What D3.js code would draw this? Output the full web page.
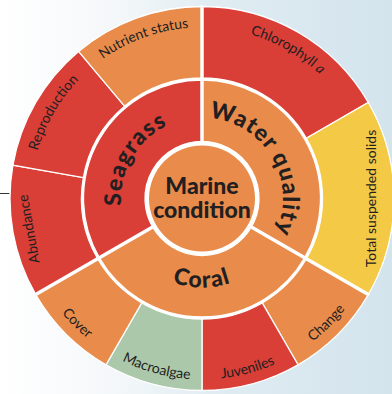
<!DOCTYPE html>
<html>
<head>
<meta charset="utf-8">
<script src="https://cdn.jsdelivr.net/npm/d3@7"></script>
<style>
  html, body { margin: 0; padding: 0; background: #fff; }
  svg { display: block; }
</style>
</head>
<body>
<div id="chart"></div>
<script>
// report card grades
var centreLabel = ["Marine", "condition"];
var centreGrade = "poor";

var groups = ["Water quality", "Coral", "Seagrass"];
var groupGrades = ["poor", "poor", "very poor"];

var indicators = ["Chlorophyll a", "Total suspended solids", "Change", "Juveniles", "Macroalgae", "Cover", "Abundance", "Reproduction", "Nutrient status"];
var indicatorGroup = [0, 0, 1, 1, 1, 1, 2, 2, 2];
var indicatorGrades = ["very poor", "moderate", "poor", "very poor", "good", "poor", "very poor", "very poor", "poor"];

var grades = ["very poor", "poor", "moderate", "good"];
var gradeColours = ["#d93e37", "#e98c4b", "#f3c945", "#abc8aa"];

var width = 392, height = 394;
var cx = 202, cy = 198.5;
var R = 192;          // outer edge
var rMid = 119.5;     // between the two rings
var rIn = 57;         // inside of group ring
var rCentre = 53;

var color = d3.scaleOrdinal().domain(grades).range(gradeColours);

var svg = d3.select("#chart").append("svg")
    .attr("width", width)
    .attr("height", height);

// pale map-ish background
var defs = svg.append("defs");
var bg = defs.append("linearGradient").attr("id", "bg").attr("x1", "0").attr("x2", "1").attr("y1", "0").attr("y2", "0");
bg.append("stop").attr("offset", "0%").attr("stop-color", "#ffffff");
bg.append("stop").attr("offset", "28%").attr("stop-color", "#f5f8fa");
bg.append("stop").attr("offset", "55%").attr("stop-color", "#e0ecf2");
bg.append("stop").attr("offset", "100%").attr("stop-color", "#d3e4ed");
svg.append("rect").attr("width", width).attr("height", height).attr("fill", "url(#bg)");

svg.append("line")
    .attr("x1", 0).attr("x2", 14)
    .attr("y1", 193.5).attr("y2", 193.5)
    .attr("stroke", "#333").attr("stroke-width", 1);

var g = svg.append("g").attr("transform", "translate(" + cx + "," + cy + ")");

// angles: each group gets an equal share, indicators split their group evenly
var groupPie = d3.pie().sort(null).value(function(){ return 1; });
var groupArcs = groupPie(groups);

var indArcs = [];
groupArcs.forEach(function(ga, gi){
    var kids = indicators.map(function(d, i){ return i; }).filter(function(i){ return indicatorGroup[i] == gi; });
    var p = d3.pie().sort(null).value(function(){ return 1; })
        .startAngle(ga.startAngle).endAngle(ga.endAngle);
    p(kids).forEach(function(a){ indArcs.push(a); });
});

g.append("circle").attr("r", R + 0.5).attr("fill", "#fff");

var outerArc = d3.arc().innerRadius(rMid + 1).outerRadius(R);
var innerArc = d3.arc().innerRadius(rIn).outerRadius(rMid - 1);

g.selectAll("path.ind")
    .data(indArcs)
    .enter().append("path")
    .attr("class", "ind")
    .attr("d", outerArc)
    .attr("fill", function(d){ return color(indicatorGrades[d.data]); })
    .attr("stroke", "#fff")
    .attr("stroke-width", 1.3);

g.selectAll("path.grp")
    .data(groupArcs)
    .enter().append("path")
    .attr("class", "grp")
    .attr("d", innerArc)
    .attr("fill", function(d, i){ return color(groupGrades[i]); })
    .attr("stroke", "#fff")
    .attr("stroke-width", 1.3);

// thicker white spokes between groups
g.selectAll("line.spoke")
    .data(groupArcs)
    .enter().append("line")
    .attr("x1", function(d){ return rIn * Math.sin(d.startAngle); })
    .attr("y1", function(d){ return -rIn * Math.cos(d.startAngle); })
    .attr("x2", function(d){ return (R + 1) * Math.sin(d.startAngle); })
    .attr("y2", function(d){ return -(R + 1) * Math.cos(d.startAngle); })
    .attr("stroke", "#fff")
    .attr("stroke-width", 3.5);

g.append("circle").attr("r", rCentre).attr("fill", color(centreGrade));

// text helpers
function pt(a, r){ return [r * Math.sin(a), -r * Math.cos(a)]; }

function arcPath(mid, r, flip){
    var s = 85 * Math.PI / 180;
    var a = flip ? mid + s : mid - s;
    var b = flip ? mid - s : mid + s;
    var p0 = pt(a, r), p1 = pt(b, r);
    return "M" + p0[0] + "," + p0[1] + "A" + r + "," + r + " 0 0," + (flip ? 0 : 1) + " " + p1[0] + "," + p1[1];
}

function isFlipped(mid){
    var deg = mid * 180 / Math.PI;
    return deg >= 89 && deg < 250;
}

function addLabel(id, text, mid, rc, fs, weight, spacing, straight){
    var flip = isFlipped(mid);
    if (straight) {
        var p = pt(mid, rc);
        var rot = mid * 180 / Math.PI - (flip ? 180 : 0);
        g.append("text")
            .attr("transform", "translate(" + p[0] + "," + p[1] + ") rotate(" + rot + ")")
            .attr("dy", "0.35em")
            .attr("text-anchor", "middle")
            .style("font-size", fs + "px")
            .style("font-weight", weight)
            .style("letter-spacing", spacing + "px")
            .attr("fill", "#231f20")
            .text(text);
        return;
    }
    var r = flip ? rc + 0.35 * fs : rc - 0.35 * fs;
    defs.append("path").attr("id", id).attr("d", arcPath(mid, r, flip))
        .attr("transform", "translate(" + cx + "," + cy + ")");
    var tp = svg.append("text")
        .style("font-size", fs + "px")
        .style("font-weight", weight)
        .style("letter-spacing", spacing + "px")
        .attr("fill", "#231f20")
      .append("textPath")
        .attr("href", "#" + id)
        .attr("startOffset", "50%")
        .attr("text-anchor", "middle");
    if (/ a$/.test(text)) {
        tp.append("tspan").text(text.slice(0, -1));
        tp.append("tspan").style("font-style", "italic").text("a");
    } else {
        tp.text(text);
    }
}

var straightOnes = ["Total suspended solids", "Abundance"];

indArcs.forEach(function(d, i){
    var mid = (d.startAngle + d.endAngle) / 2;
    var name = indicators[d.data];
    var straight = straightOnes.indexOf(name) >= 0;
    var rc = name == "Total suspended solids" ? 169 : 176;
    addLabel("ind" + i, name, mid, rc, 14, 400, 0, straight);
});

groupArcs.forEach(function(d, i){
    var mid = (d.startAngle + d.endAngle) / 2;
    var rc = isFlipped(mid) ? 81 : 89;
    addLabel("grp" + i, d.data, mid, rc, 23, 900, 1.2, false);
});

g.selectAll("text.centre")
    .data(centreLabel)
    .enter().append("text")
    .attr("class", "centre")
    .attr("text-anchor", "middle")
    .attr("y", function(d, i){ return -13 + i * 24; })
    .attr("dy", "0.35em")
    .style("font-size", "23px")
    .style("font-weight", 900)
    .attr("fill", "#231f20")
    .text(function(d){ return d; });

svg.selectAll("text").style("font-family", "Lato, 'Open Sans', sans-serif");
</script>
</body>
</html>
